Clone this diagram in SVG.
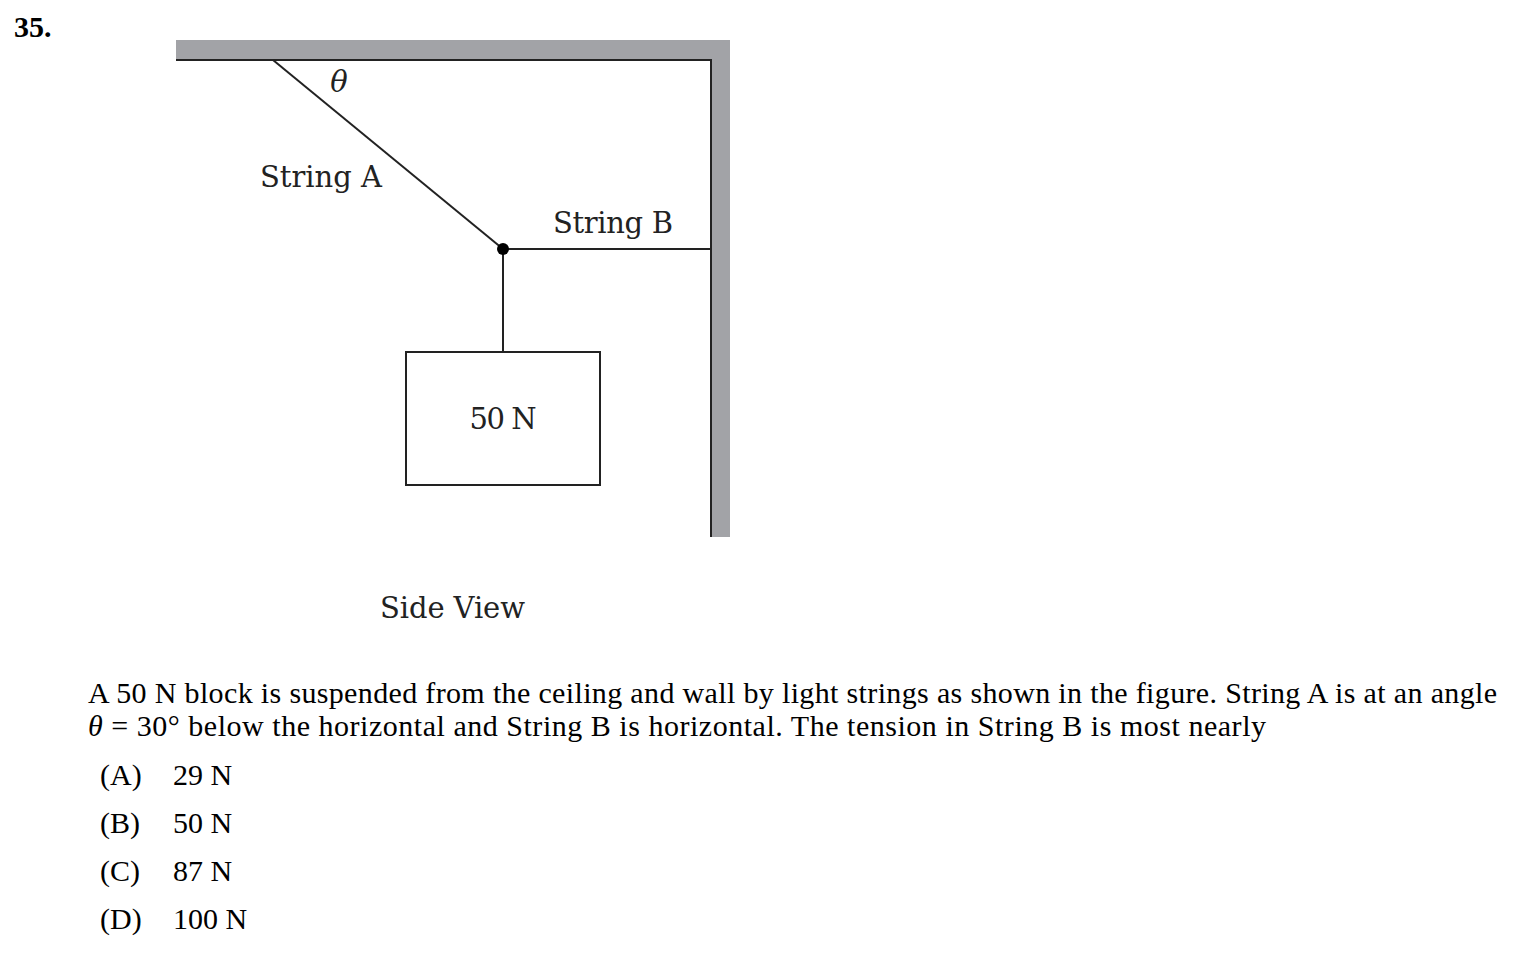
<svg xmlns="http://www.w3.org/2000/svg" width="1514" height="953" viewBox="0 0 1514 953">
<style>
.f{font-family:"DejaVu Serif","Liberation Serif",serif;fill:#222;font-size:29px}
.t{font-family:"Liberation Serif",serif;fill:#000;font-size:30px}
.l{stroke:#222;stroke-width:2;fill:none}
</style>
<rect width="1514" height="953" fill="#fff"/>
<text x="14" y="37" class="t" font-weight="bold" font-size="27">35.</text>
<g id="support">
<path d="M176 40H730V537H710V60H176Z" fill="#a2a3a7"/>
<path d="M176 60H711V537" class="l" stroke-width="2.5"/>
</g>
<g id="connectors">
<line x1="273" y1="60" x2="503" y2="249" class="l"/>
<line x1="503" y1="249" x2="710" y2="249" class="l"/>
<line x1="503" y1="249" x2="503" y2="352" class="l"/>
</g>
<circle id="knot" cx="503" cy="249" r="6" fill="#000"/>
<g id="block"><rect x="406" y="352" width="194" height="133" class="l"/>
<text x="503" y="429" class="f" text-anchor="middle" textLength="67">50 N</text></g>
<text x="339" y="92" class="f" font-style="italic" text-anchor="middle" font-size="28">θ</text>
<text x="260" y="187" class="f" textLength="122">String A</text>
<text x="553" y="233" class="f" textLength="120">String B</text>
<text x="380" y="618" class="f" textLength="145">Side View</text>
<text x="88" y="703" class="t" textLength="1409">A 50 N block is suspended from the ceiling and wall by light strings as shown in the figure. String A is at an angle</text>
<text x="88" y="736" class="t" textLength="1178"><tspan font-style="italic">θ</tspan> = 30° below the horizontal and String B is horizontal. The tension in String B is most nearly</text>
<text x="100" y="785" class="t">(A)</text><text x="173" y="785" class="t" font-size="32">29 N</text>
<text x="100" y="833" class="t">(B)</text><text x="173" y="833" class="t" font-size="32">50 N</text>
<text x="100" y="881" class="t">(C)</text><text x="173" y="881" class="t" font-size="32">87 N</text>
<text x="100" y="929" class="t">(D)</text><text x="173" y="929" class="t" font-size="32">100 N</text>
</svg>
